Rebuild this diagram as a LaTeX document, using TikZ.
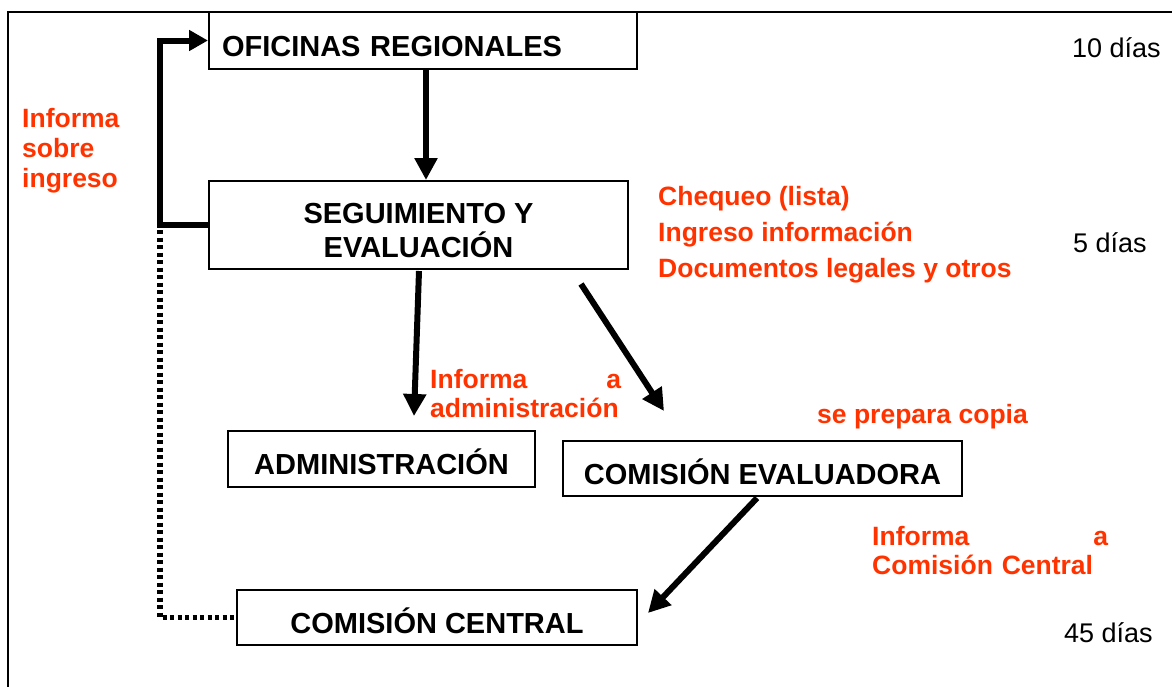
\documentclass[tikz,border=0pt]{standalone}
\usepackage{fontspec}
\setmainfont{Liberation Sans}
\usetikzlibrary{arrows.meta,calc}
\definecolor{rojizo}{RGB}{255,51,0}
\begin{document}
\begin{tikzpicture}[x=1pt,y=-1pt,
    caja/.style={draw,line width=2,inner sep=0,text height=31pt,text depth=0pt,font=\fontsize{29}{34}\selectfont\bfseries},
    rojo/.style={text=rojizo,inner sep=0,align=left,anchor=base west,font=\fontsize{26.5}{30}\selectfont\bfseries},
    plazo/.style={inner sep=0,anchor=base west,font=\fontsize{27}{30}\selectfont},
    flecha/.style={line width=6,-{Triangle[length=22pt,width=22pt]}}]
    \useasboundingbox (0,0) rectangle (1172,686);
    \draw[line width=2](8,700)--(8,12)--(1180,12);
    \node[caja,minimum width=428,minimum height=57,text width=402,align=left](ofi)at(423,40.5){OFICINAS REGIONALES};
    \node[caja,minimum width=419,minimum height=88,align=center,text height=64pt,text depth=0pt](seg)at(418.5,225){SEGUIMIENTO Y\\EVALUACIÓN};
    \node[caja,minimum width=307,minimum height=56](adm)at(381.5,459){ADMINISTRACIÓN};
    \node[caja,minimum width=399,minimum height=55](eva)at(762.5,468.5){COMISIÓN EVALUADORA};
    \node[caja,minimum width=400,minimum height=55](cen)at(437,617.5){COMISIÓN CENTRAL};
    \coordinate(esq)at([xshift=-48pt]seg.west);
    \draw[flecha](ofi.south-|426,0)--(seg.north-|426,0);
    \draw[flecha,-{Triangle[length=19pt,width=20pt]}](seg.west)--(esq)|-(ofi.west);
    \draw[line width=5.5,dash pattern=on 4pt off 3.5pt]([yshift=-5pt]esq)|-(cen.west);
    \draw[flecha]([shift={(0.5,1)}]seg.south)--([shift={(32.5,-14)}]adm.north);
    \draw[flecha]([shift={(-48,14)}]seg.south east)--([shift={(102,-29)}]eva.north west);
    \draw[flecha]([shift={(-5.5,1)}]eva.south)--([shift={(10,-4.5)}]cen.east);
    \node[rojo](infsob)at(22,187){Informa\\sobre\\ingreso};
    \node[rojo,font=\fontsize{26.5}{36}\selectfont\bfseries](cheq)at(658,277){Chequeo (lista)\\Ingreso información\\Documentos legales y otros};
    \node[rojo,text width=191,font=\fontsize{26.5}{29}\selectfont\bfseries](infadm)at(430,388){Informa\hfill a\\administración};
    \node[rojo](copia)at(817,423){se prepara copia};
    \node[rojo,text width=236,font=\fontsize{26.5}{29}\selectfont\bfseries](infcom)at(872,545){Informa\hfill a\\Comisión Central};
    \node[plazo](d10)at(1072,57){10 días};
    \node[plazo](d5)at(1073,252){5 días};
    \node[plazo](d45)at(1064,642){45 días};
\end{tikzpicture}
\end{document}
